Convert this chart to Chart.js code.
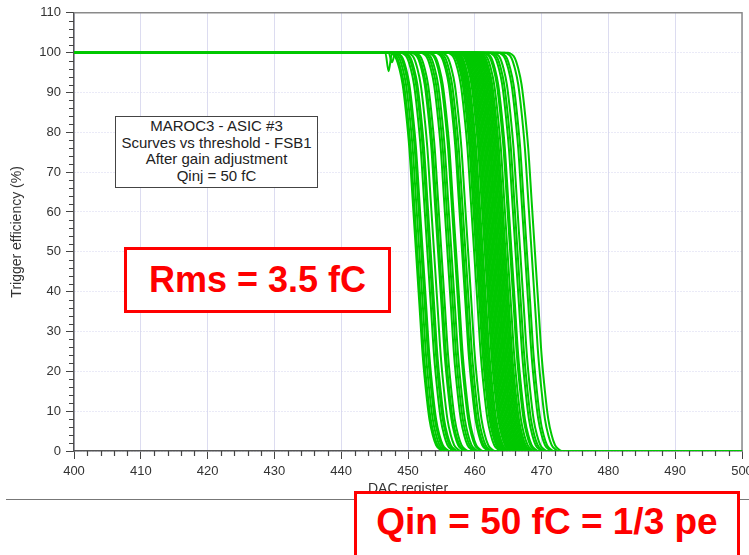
<!DOCTYPE html>
<html>
<head>
<meta charset="utf-8">
<script src="https://cdn.jsdelivr.net/npm/chart.js@4.4.1/dist/chart.umd.min.js"></script>
<style>
  html, body { margin: 0; padding: 0; background: #fff; }
  #wrap { position: relative; width: 749px; height: 555px; overflow: hidden; font-family: "Liberation Sans", Arial, sans-serif; }
  #wrap canvas { position: absolute; left: 0; top: 0; }
  .info { position: absolute; left: 115px; top: 116px; width: 203px; height: 72px; box-sizing: border-box; border: 1.5px solid #444; background: #fff; text-align: center; font-size: 15px; line-height: 16.7px; color: #222; padding-top: 1px; white-space: nowrap; }
  .red { position: absolute; box-sizing: border-box; border: 3px solid #f00; background: #fff; color: #f00; font-weight: bold; text-align: center; white-space: nowrap; }
  .rule { position: absolute; left: 6px; top: 499px; width: 743px; border-top: 1.5px solid #777; }
</style>
</head>
<body>
<div id="wrap">
  <canvas id="chart" width="749" height="555"></canvas>
  <div class="info">MAROC3 - ASIC #3<br>Scurves vs threshold - FSB1<br>After gain adjustment<br>Qinj = 50 fC</div>
  <div class="red" style="left:124px;top:247px;width:267px;height:66px;font-size:36px;line-height:60px;">Rms = 3.5 fC</div>
  <div class="rule"></div>
  <div class="red" style="left:354px;top:491px;width:386px;height:80px;font-size:37px;line-height:56px;">Qin = 50 fC = 1/3 pe</div>
</div>
<script>
// axis ranges
const xMin = 400, xMax = 500, xStep = 10
const yMin = 0, yMax = 110, yStep = 10

// 50% point of each channel's S-curve (DAC units)
const thresholds = [
  451.2, 451.4, 451.7, 452.0, 452.2, 452.9, 453.2, 453.4, 453.9, 454.5,
  454.7, 455.0, 455.9, 456.2, 456.5, 457.0, 457.2, 458.1, 458.3, 458.6,
  459.0, 459.9, 460.2, 460.4, 460.6, 460.8, 461.0, 461.2, 461.5, 461.7,
  461.9, 462.1, 462.3, 462.5, 462.7, 462.9, 463.1, 463.3, 463.4, 463.6,
  463.8, 464.0, 464.2, 464.4, 464.6, 464.9, 465.3, 465.5, 466.1, 466.4,
  466.8, 467.5, 467.8, 468.5, 469.0
]

// common S-curve shape around the 50% point: DAC offset -> efficiency (%)
const profileOffset = [-4, -3.5, -3, -2.5, -2, -1.5, -1, -0.5, 0, 0.5, 1, 1.5, 2, 2.5, 3, 3.5, 4]
const profileEff = [100, 99.6, 98.6, 96, 92, 85, 76, 63, 50, 37, 24, 15, 8, 4, 1.5, 0.5, 0]

// glitches on the plateau of the two first channels
const dipX = [447.1, 447.6]
const dipEff = [95.3, 97.6]

const green = '#00c800'

const datasets = thresholds.map((c, i) => {
  const pts = [{ x: xMin, y: 100 }]
  if (i < dipX.length) {
    pts.push({ x: dipX[i] - 0.5, y: 100 })
    pts.push({ x: dipX[i], y: dipEff[i] })
    pts.push({ x: dipX[i] + 0.5, y: 100 })
  }
  profileOffset.forEach((o, k) => pts.push({ x: c + o, y: profileEff[k] }))
  pts.push({ x: xMax, y: 0 })
  return {
    data: pts,
    borderColor: green,
    borderWidth: 2,
    pointRadius: 0,
    cubicInterpolationMode: 'monotone',
    fill: false
  }
})

// frame on top / right and minor ticks
const framePlugin = {
  id: 'frame',
  beforeDatasetsDraw(chart) {
    const { ctx, chartArea: a, scales } = chart
    ctx.save()
    ctx.strokeStyle = '#8a8a8a'
    ctx.lineWidth = 1.5
    ctx.beginPath()
    ctx.moveTo(a.left, a.top)
    ctx.lineTo(a.right, a.top)
    ctx.lineTo(a.right, a.bottom)
    ctx.stroke()

    ctx.strokeStyle = '#444'
    ctx.lineWidth = 1.2
    ctx.beginPath()
    for (let v = xMin; v <= xMax; v += 2) {
      if (v % xStep === 0) continue
      const px = Math.round(scales.x.getPixelForValue(v)) + 0.5
      ctx.moveTo(px, a.bottom)
      ctx.lineTo(px, a.bottom + 5)
    }
    for (let v = yMin; v <= yMax; v += 2) {
      if (v % yStep === 0) continue
      const py = Math.round(scales.y.getPixelForValue(v)) + 0.5
      ctx.moveTo(a.left, py)
      ctx.lineTo(a.left - 5, py)
    }
    ctx.stroke()
    ctx.restore()
  }
}

const font = { family: '"Liberation Sans", Arial, sans-serif', size: 13 }

new Chart(document.getElementById('chart'), {
  type: 'line',
  data: { datasets },
  plugins: [framePlugin],
  options: {
    responsive: false,
    animation: false,
    layout: { padding: { left: 0, top: 11, right: 7, bottom: 0 } },
    plugins: { legend: { display: false }, tooltip: { enabled: false } },
    scales: {
      x: {
        type: 'linear',
        min: xMin,
        max: xMax,
        afterFit: (s) => { s.height = 104; s.paddingRight = 0; s.paddingLeft = 0 },
        ticks: { stepSize: xStep, autoSkip: false, maxRotation: 0, color: '#333', font, padding: 5 },
        grid: { color: '#dcdcf0', tickColor: '#444', tickLength: 8, lineWidth: 1 },
        border: { color: '#555', width: 1.5 },
        title: { display: true, text: 'DAC register', color: '#333', font: { ...font, size: 14 }, padding: { top: 0, bottom: 57 } }
      },
      y: {
        min: yMin,
        max: yMax,
        afterFit: (s) => { s.width = 74 },
        ticks: { stepSize: yStep, autoSkip: false, color: '#333', font, padding: 5 },
        grid: { color: '#d4d4ee', tickColor: '#444', tickLength: 8, lineWidth: 1 },
        border: { color: '#555', width: 1.5, dash: [1, 2] },
        title: { display: true, text: 'Trigger efficiency (%)', color: '#333', font: { ...font, size: 14 }, padding: { top: 9, bottom: 6 } }
      }
    }
  }
})
</script>
</body>
</html>
